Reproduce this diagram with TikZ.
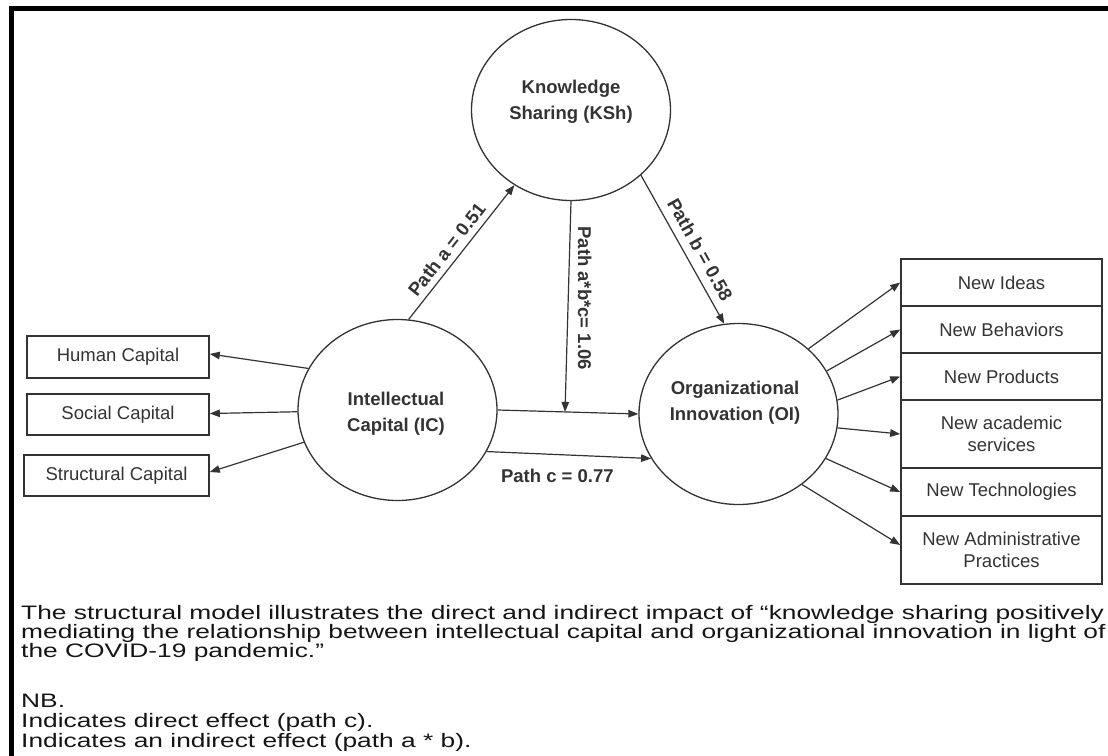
\documentclass[tikz,border=0pt]{standalone}
\usepackage{fontspec}
\setmainfont{Liberation Sans}
\newfontfamily\captionfont[FakeStretch=1.35]{Liberation Sans}
\usetikzlibrary{shapes.geometric,arrows.meta,calc}
\definecolor{ink}{HTML}{333333}
\definecolor{capink}{HTML}{151515}
\begin{document}
\begin{tikzpicture}[x=1pt,y=-1pt,
  construct/.style={ellipse, draw=ink, line width=1.3pt, minimum width=199pt,
    minimum height=181pt, inner sep=0pt},
  ctext/.style={text=ink, font=\fontsize{18.5}{26}\selectfont\bfseries,
    align=center, inner sep=0pt},
  indicator/.style={draw=ink, line width=1.6pt, text=ink,
    font=\fontsize{18.5}{22}\selectfont, align=center, inner sep=0pt},
  link/.style={draw=ink, line width=1.2pt, -{Triangle[length=10pt,width=7.5pt]}},
  pathlbl/.style={text=ink, font=\fontsize{18.5}{22}\selectfont\bfseries, inner sep=2pt},
  captxt/.style={text=capink, font=\captionfont\fontsize{19.5}{19}\selectfont,
    anchor=base west, inner sep=0pt}
]
\useasboundingbox (0,0) rectangle (1108,755);

% outer frame (top and left edges)
\draw[line width=4.5pt, line join=miter] (11.5,760) -- (11.5,8.5) -- (1112,8.5);

% latent constructs
\node[construct] (KSh) at (571,110) {};
\node[construct] (IC) at (397.5,410) {};
\node[construct] (OI) at (738.5,414) {};
\node[ctext] (KShT) at (571,101.5) {Knowledge\\Sharing (KSh)};
\node[ctext] (ICT) at (396,414) {Intellectual\\Capital (IC)};
\node[ctext] (OIT) at (735,403) {Organizational\\Innovation (OI)};

% dimensions of intellectual capital
\node[indicator, minimum width=182pt, minimum height=42pt] (HC) at (118,357) {Human Capital};
\node[indicator, minimum width=182pt, minimum height=41pt] (SC) at (118,414.5) {Social Capital};
\node[indicator, minimum width=185pt, minimum height=41pt] (StC) at (116.5,475.5) {Structural Capital};

% dimensions of organizational innovation
\node[indicator, minimum width=201pt, minimum height=47pt] (NIdeas) at (1001.5,282.5) {New Ideas};
\node[indicator, minimum width=201pt, minimum height=47pt] (NBeh) at (1001.5,329.5) {New Behaviors};
\node[indicator, minimum width=201pt, minimum height=47pt] (NProd) at (1001.5,376.5) {New Products};
\node[indicator, minimum width=201pt, minimum height=68pt] (NAcad) at (1001.5,434) {New academic\\services};
\node[indicator, minimum width=201pt, minimum height=48pt] (NTech) at (1001.5,492) {New Technologies};
\node[indicator, minimum width=201pt, minimum height=68pt] (NAdm) at (1001.5,550) {New Administrative\\Practices};

% IC to its dimensions
\draw[link] (IC.155.9) -- ([yshift=3pt]HC.east);
\draw[link] (IC.181.7) -- ([yshift=1pt]SC.east);
\draw[link] (IC.199.2) -- ([yshift=3.5pt]StC.east);

% OI to its dimensions
\draw[link] (OI.43.6) -- (NIdeas.west);
\draw[link] (OI.26.4) -- (NBeh.west);
\draw[link] (OI.8.7) -- (NProd.west);
\draw[link] (OI.-8.1) -- (NAcad.west);
\draw[link] (OI.-27) -- (NTech.west);
\draw[link] (OI.-48.3) -- ([yshift=5pt]NAdm.west);

% structural paths
\draw[link] (IC.83.3) -- node[pathlbl, sloped, above=4pt, pos=0.46] (la) {Path a = 0.51} (KSh.233);
\draw[link] (KSh.-43) -- node[pathlbl, sloped, above=6pt, pos=0.55] (lb) {Path b = 0.58} (OI.99.5);
\draw[link] (IC.east) -- (OI.west);
\coordinate (J) at ($(IC.east)!(KSh.south)!(OI.west)$);
\draw[link] (KSh.south) -- node[pathlbl, rotate=-90, above=7pt, pos=0.46] (lm) {Path a*b*c= 1.06} (J);
\draw[link] (IC.-25.9) -- node[pathlbl, below=12pt, pos=0.43] (lc) {Path c = 0.77} (OI.207.2);

% caption and notes
\node[captxt] (c1) at (21,619) {The structural model illustrates the direct and indirect impact of “knowledge sharing positively};
\node[captxt] (c2) at (21,638) {mediating the relationship between intellectual capital and organizational innovation in light of};
\node[captxt] (c3) at (21,657) {the COVID-19 pandemic.”};
\node[captxt] (nb) at (21,707) {NB.};
\node[captxt] (d1) at (21,727) {Indicates direct effect (path c).};
\node[captxt] (d2) at (21,747) {Indicates an indirect effect (path a * b).};
\end{tikzpicture}
\end{document}
